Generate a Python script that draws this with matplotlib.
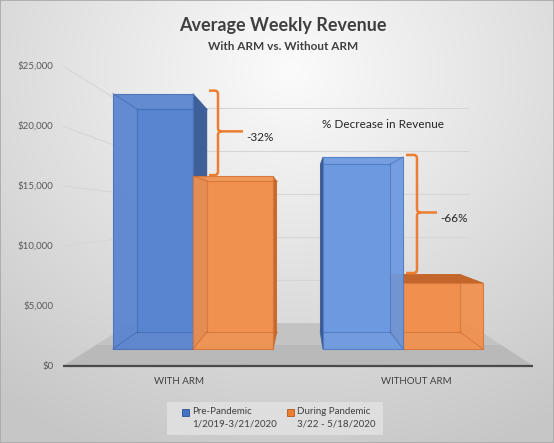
import numpy as np
import matplotlib
matplotlib.use("Agg")
import matplotlib.pyplot as plt
from matplotlib.patches import Polygon, Rectangle, PathPatch
from matplotlib.path import Path
from matplotlib.transforms import IdentityTransform

# ---------------- data ----------------
categories = ["WITH ARM", "WITHOUT ARM"]
pre_pandemic = [24000, 18050]
during_pandemic = [16250, 6200]
series_labels = [("Pre-Pandemic", "1/2019-3/21/2020"), ("During Pandemic", "3/22 - 5/18/2020")]
pct_labels = ["-32%", "-66%"]
y_ticks = [0, 5000, 10000, 15000, 20000, 25000]
tick_labels = [f"${v:,}" for v in y_ticks]
title = "Average Weekly Revenue"
subtitle = "With ARM vs. Without ARM"
note = "% Decrease in Revenue"

# ---------------- layout ----------------
W, H = 554, 443
FONT = ["Lato", "DejaVu Sans"]
X0_PX, X_UNIT_PX = 193, 210          # category 0 position / px per category
Y0_PX, Y_PX_PER = 349, 53.2 / 5000   # baseline pixel row / px per dollar (bar front plane)
VX = (302 - X0_PX) / X_UNIT_PX
VY = (Y0_PX - 215) / Y_PX_PER
S_FLOOR_FRONT, S_BAR_BACK, S_WALL = 1.127, 0.873, 0.808
BAR_W = 80 / X_UNIT_PX
FLOOR_L, FLOOR_R = -0.49, 1.495

fig = plt.figure(figsize=(W / 100, H / 100), dpi=100)

# background gradient
bg = fig.add_axes([0, 0, 1, 1], zorder=0)
yy, xx = np.mgrid[0:H, 0:W]
d = np.sqrt(((xx - 290) / 1.15) ** 2 + ((yy - 70) * 1.0) ** 2)
g = np.clip(0.985 - 0.19 * (d / 380), 0.78, 1.0)
bg.imshow(np.dstack([g, g, g]), extent=(0, W, H, 0), aspect="auto", interpolation="bilinear")
bg.set_xlim(0, W); bg.set_ylim(H, 0); bg.axis("off")

ax = fig.add_axes([0, 0, 1, 1], zorder=1)
ax.set_xlim(-X0_PX / X_UNIT_PX, (W - X0_PX) / X_UNIT_PX)
ax.set_ylim((Y0_PX - H) / Y_PX_PER, Y0_PX / Y_PX_PER)
ax.axis("off")
ax.patch.set_alpha(0)


def P(x, y, s):
    return (VX + s * (x - VX), VY + s * (y - VY))


# floor (two bands for a soft gradient: darker at the front)
S_MID = (S_FLOOR_FRONT + S_WALL) / 2
for s_a, s_b, col in [(S_FLOOR_FRONT, S_MID, "#b9b9b9"), (S_MID, S_WALL, "#c3c3c3")]:
    poly = [P(FLOOR_L, 0, s_a), P(FLOOR_R, 0, s_a), P(FLOOR_R, 0, s_b), P(FLOOR_L, 0, s_b)]
    ax.add_patch(Polygon(poly, closed=True, facecolor=col, edgecolor=col, lw=0.3, zorder=2))

# gridlines: back wall and left wall
for v in y_ticks[1:]:
    a, b = P(FLOOR_L, v, S_WALL), P(FLOOR_R, v, S_WALL)
    ax.plot([a[0], b[0]], [a[1], b[1]], color="#d6d6d6", lw=0.8, zorder=1.5)
    c = P(FLOOR_L, v, S_FLOOR_FRONT)
    ax.plot([c[0], a[0]], [c[1], a[1]], color="#d6d6d6", lw=0.8, zorder=1.5)

# floor front edge
a, b = P(FLOOR_L, 0, S_FLOOR_FRONT), P(FLOOR_R, 0, S_FLOOR_FRONT)
ax.plot([a[0], b[0]], [a[1], b[1]], color="#4a4a4a", lw=1.6, zorder=3, solid_capstyle="butt")

# tick labels
for v, lab in zip(y_ticks, tick_labels):
    ax.annotate(lab, P(FLOOR_L, v, S_FLOOR_FRONT), xytext=(-10, 0), textcoords="offset pixels",
                ha="right", va="center", fontsize=7, color="#595959", family=FONT)

# category labels
for i, lab in enumerate(categories):
    ax.annotate(lab, P(i, 0, S_FLOOR_FRONT), xytext=(0, -15), textcoords="offset pixels",
                ha="center", va="center", fontsize=7, color="#404040", family=FONT)

# bar styles
BLUE = [dict(front="#5884d0", side="#3f5f98", top="#4a6fb0", edge="#4a72ba", inner="#3b62aa"),
        dict(front="#6c99e0", side="#3b5b92", top="#4a6fb0", edge="#4f7cc6", inner="#3f68b3")]
ORANGE = [dict(front="#f1914f", side="#c46a2f", top="#c0682e", edge="#d9773a", inner="#c8672a"),
          dict(front="#f1904e", side="#c46a2f", top="#c2662c", edge="#d9773a", inner="#c8672a")]


def draw_bar(xl, h, st, z):
    xr = xl + BAR_W
    FL0, FR0, FR1, FL1 = P(xl, 0, 1), P(xr, 0, 1), P(xr, h, 1), P(xl, h, 1)
    BL0, BR0, BR1, BL1 = P(xl, 0, S_BAR_BACK), P(xr, 0, S_BAR_BACK), P(xr, h, S_BAR_BACK), P(xl, h, S_BAR_BACK)
    ax.add_patch(Polygon([BL0, BR0, BR1, BL1], facecolor=st["front"], edgecolor="none", zorder=z))
    if xl > VX:
        ax.add_patch(Polygon([FL0, BL0, BL1, FL1], facecolor=st["side"], edgecolor=st["side"], lw=0.5, zorder=z + 0.1))
    if xr < VX:
        ax.add_patch(Polygon([FR0, BR0, BR1, FR1], facecolor=st["side"], edgecolor=st["side"], lw=0.5, zorder=z + 0.1))
    if h < VY:
        ax.add_patch(Polygon([FL1, FR1, BR1, BL1], facecolor=st["top"], edgecolor=st["top"], lw=0.5, zorder=z + 0.2))
    ax.add_patch(Polygon([FL0, FR0, FR1, FL1], facecolor=st["front"], edgecolor=st["edge"], lw=0.8,
                         alpha=0.93, zorder=z + 0.3))
    # hidden edges seen through the translucent face
    segs = [(BL0, BR0), (BL0, FL0), (BR0, FR0)]
    if xl < VX:
        segs.append((BL0, BL1))
    if xr > VX:
        segs.append((BR0, BR1))
    if h > VY:
        segs += [(BL1, BR1), (FL1, BL1) if xl < VX else (FR1, BR1)]
    for p, q in segs:
        ax.plot([p[0], q[0]], [p[1], q[1]], color=st["inner"], lw=0.8, alpha=0.55, zorder=z + 0.4)


for i in range(len(categories)):
    xl_pre = i - BAR_W
    xl_dur = i
    if xl_pre + BAR_W < VX:
        draw_bar(xl_pre, pre_pandemic[i], BLUE[i], 4 + 2 * i)
        draw_bar(xl_dur, during_pandemic[i], ORANGE[i], 5 + 2 * i)
    else:
        draw_bar(xl_dur, during_pandemic[i], ORANGE[i], 4 + 2 * i)
        draw_bar(xl_pre, pre_pandemic[i], BLUE[i], 5 + 2 * i)

# braces (pixel offsets from the bars)
BRACE_X = [(16, 25, 50), (3, 14, 34)]     # hook, vertical, tip offsets from right edge of pre bar
BRACE_Y = [(-3, -1), (-2, -10)]           # top/bottom pixel adjustments
fig.canvas.draw()
T = ax.transData
for i in range(len(categories)):
    xr_px, top = T.transform((i, pre_pandemic[i]))
    _, bot = T.transform((i, during_pandemic[i]))
    top += -BRACE_Y[i][0]
    bot += -BRACE_Y[i][1]
    xh, xv, xt = xr_px + BRACE_X[i][0], xr_px + BRACE_X[i][1], xr_px + BRACE_X[i][2]
    ym = (top + bot) / 2 + 1.5
    r = 3.5
    verts = [(xh, top), (xv - r, top), (xv, top), (xv, top - r), (xv, ym + r), (xv, ym), (xv + r, ym), (xt, ym),
             (xv + r, ym), (xv, ym), (xv, ym - r), (xv, bot + r), (xv, bot), (xv - r, bot), (xh, bot)]
    codes = [Path.MOVETO, Path.LINETO, Path.CURVE3, Path.CURVE3, Path.LINETO, Path.CURVE3, Path.CURVE3, Path.LINETO,
             Path.MOVETO, Path.CURVE3, Path.CURVE3, Path.LINETO, Path.CURVE3, Path.CURVE3, Path.LINETO]
    fig.add_artist(PathPatch(Path(verts, codes), transform=IdentityTransform(), facecolor="none",
                             edgecolor="#ed7d31", lw=1.8, zorder=20))
    fig.text((xt + 3) / W, (ym - 6) / H, pct_labels[i], ha="left", va="center", fontsize=8.5,
             color="#262626", family=FONT, zorder=21)


def fx(px):
    return px / W


def fy(py):
    return 1 - py / H


fig.text(fx(283), fy(26), title, ha="center", va="center", fontsize=13, fontweight="bold",
         color="#404040", family=FONT)
fig.text(fx(283), fy(46), subtitle, ha="center", va="center", fontsize=8.5, fontweight="bold",
         color="#404040", family=FONT)
fig.text(fx(322), fy(125), note, ha="left", va="center", fontsize=8.5, color="#262626", family=FONT, zorder=21)

# legend
fig.add_artist(Rectangle((fx(167), fy(435)), (383 - 167) / W, (435 - 402) / H, transform=fig.transFigure,
                         facecolor="#dedede", edgecolor="none", zorder=10))
LEG_X = [182, 287]
LEG_COLORS = [("#4472c4", "#2f528f"), ("#ed7d31", "#ae5a21")]
for (l1, l2), lx, (fc, ec) in zip(series_labels, LEG_X, LEG_COLORS):
    fig.add_artist(Rectangle((fx(lx), fy(416)), 7 / W, 7 / H, transform=fig.transFigure,
                             facecolor=fc, edgecolor=ec, lw=0.6, zorder=11))
    fig.text(fx(lx + 10), fy(412), l1, ha="left", va="center", fontsize=7, color="#404040", family=FONT, zorder=11)
    fig.text(fx(lx + 10), fy(424), l2, ha="left", va="center", fontsize=7, color="#404040", family=FONT, zorder=11)

# border
fig.add_artist(Rectangle((0, 0), 1, 1, transform=fig.transFigure, facecolor="none",
                         edgecolor="#a8a8a8", lw=1.2, zorder=30))

fig.savefig("out.png", dpi=100)
